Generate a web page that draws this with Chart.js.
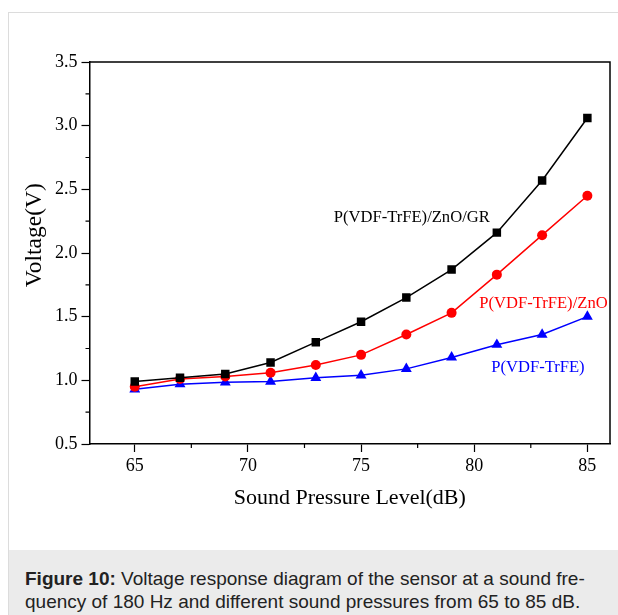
<!DOCTYPE html>
<html>
<head>
<meta charset="utf-8">
<script src="https://cdn.jsdelivr.net/npm/chart.js@4/dist/chart.umd.min.js"></script>
<style>
  html, body { margin: 0; padding: 0; background: #fff; width: 618px; height: 615px; overflow: hidden; }
  #frame { position: absolute; left: 8px; top: 12px; width: 610px; height: 603px;
           border-left: 1px solid #dcdcdc; border-top: 1px solid #dcdcdc; box-sizing: border-box; }
  #wrap { position: absolute; left: 0; top: 0; width: 609px; height: 537px; }
  #caption { position: absolute; left: 0px; top: 537px; width: 609px; height: 66px; background: #ebebeb;
             font-family: "Liberation Sans", Arial, sans-serif; font-size: 19px; line-height: 23px;
             color: #222; padding: 17px 0 0 16px; box-sizing: border-box; white-space: nowrap; }
</style>
</head>
<body>
<div id="frame">
  <div id="wrap"><canvas id="c"></canvas></div>
  <div id="caption"><b>Figure 10:</b> Voltage response diagram of the sensor at a sound fre-<br>quency of 180 Hz and different sound pressures from 65 to 85 dB.</div>
</div>
<script>
const soundLevels = [65, 67, 69, 71, 73, 75, 77, 79, 81, 83, 85];
const voltageGR   = [0.99, 1.02, 1.05, 1.14, 1.30, 1.46, 1.65, 1.87, 2.16, 2.57, 3.06];
const voltageZnO  = [0.95, 1.01, 1.03, 1.06, 1.12, 1.20, 1.36, 1.53, 1.83, 2.14, 2.45];
const voltagePure = [0.93, 0.97, 0.985, 0.99, 1.02, 1.04, 1.09, 1.18, 1.28, 1.36, 1.50];
const seriesNames = ["P(VDF-TrFE)/ZnO/GR", "P(VDF-TrFE)/ZnO", "P(VDF-TrFE)"];
const xTickValues = [65, 70, 75, 80, 85];
const xMinorTicks = [67.5, 72.5, 77.5, 82.5];
const yMinorTicks = [0.75, 1.25, 1.75, 2.25, 2.75, 3.25];
const xTitle = "Sound Pressure Level(dB)";
const yTitle = "Voltage(V)";
// label anchor positions in data units (left edge, vertical middle)
const labelAnchors = [
  { x: 73.79, y: 2.28, color: "#000" },
  { x: 80.22, y: 1.60, color: "#ff0000" },
  { x: 80.75, y: 1.10, color: "#0000ff" }
];
const yTitleCenterValue = 2.14;

const serif = '"Liberation Serif", "Times New Roman", serif';

const toPts = arr => arr.map((v, i) => ({ x: soundLevels[i], y: v }));

const extras = {
  id: 'extras',
  afterDraw(chart) {
    const ctx = chart.ctx;
    const a = chart.chartArea;
    const xs = chart.scales.x, ys = chart.scales.y;
    ctx.save();
    ctx.strokeStyle = '#000';
    ctx.lineWidth = 1.5;
    ctx.beginPath();
    ctx.moveTo(a.left, a.top); ctx.lineTo(a.right, a.top); ctx.lineTo(a.right, a.bottom);
    ctx.stroke();
    ctx.lineWidth = 1.2;
    ctx.beginPath();
    xMinorTicks.forEach(v => { const p = xs.getPixelForValue(v); ctx.moveTo(p, a.bottom); ctx.lineTo(p, a.bottom + 4); });
    yMinorTicks.forEach(v => { const p = ys.getPixelForValue(v); ctx.moveTo(a.left, p); ctx.lineTo(a.left - 4, p); });
    ctx.stroke();
    ctx.font = '16.6px ' + serif;
    ctx.textBaseline = 'middle';
    ctx.textAlign = 'left';
    labelAnchors.forEach((l, i) => {
      ctx.fillStyle = l.color;
      ctx.fillText(seriesNames[i], xs.getPixelForValue(l.x), ys.getPixelForValue(l.y));
    });
    // y-axis title
    ctx.translate(26, ys.getPixelForValue(yTitleCenterValue));
    ctx.rotate(-Math.PI / 2);
    ctx.font = '23.5px ' + serif;
    ctx.textAlign = 'center';
    ctx.fillStyle = '#000';
    ctx.fillText(yTitle, 0, 0);
    ctx.restore();
  }
};

new Chart(document.getElementById('c'), {
  type: 'line',
  data: {
    datasets: [
      { label: seriesNames[0], data: toPts(voltageGR), borderColor: '#000', backgroundColor: '#000',
        pointStyle: 'rect', pointRadius: 6, borderWidth: 1.5, pointBorderWidth: 0 },
      { label: seriesNames[1], data: toPts(voltageZnO), borderColor: '#ff0000', backgroundColor: '#ff0000',
        pointStyle: 'circle', pointRadius: 5, borderWidth: 1.5, pointBorderWidth: 0 },
      { label: seriesNames[2], data: toPts(voltagePure), borderColor: '#0000ff', backgroundColor: '#0000ff',
        pointStyle: 'triangle', pointRadius: 6.3, borderWidth: 1.5, pointBorderWidth: 0 }
    ]
  },
  options: {
    responsive: true,
    maintainAspectRatio: false,
    animation: false,
    layout: { padding: { left: 42, right: 8, top: 49, bottom: 35 } },
    plugins: { legend: { display: false }, tooltip: { enabled: false } },
    scales: {
      x: {
        type: 'linear', min: 63, max: 86,
        afterBuildTicks: s => { s.ticks = xTickValues.map(v => ({ value: v })); },
        grid: { drawOnChartArea: false, tickLength: 8, color: '#000', tickWidth: 1.2 },
        border: { color: '#000', width: 1.5 },
        ticks: { color: '#000', font: { family: serif, size: 18 }, padding: 3, maxRotation: 0 },
        title: { display: true, text: xTitle, color: '#000', font: { family: serif, size: 22 }, padding: { top: 5 } }
      },
      y: {
        type: 'linear', min: 0.5, max: 3.5,
        ticks: { stepSize: 0.5, color: '#000', font: { family: serif, size: 18 }, padding: 4,
                 callback: v => v.toFixed(1) },
        grid: { drawOnChartArea: false, tickLength: 8, color: '#000', tickWidth: 1.2 },
        border: { color: '#000', width: 1.5 }
      }
    }
  },
  plugins: [extras]
});
</script>
</body>
</html>
